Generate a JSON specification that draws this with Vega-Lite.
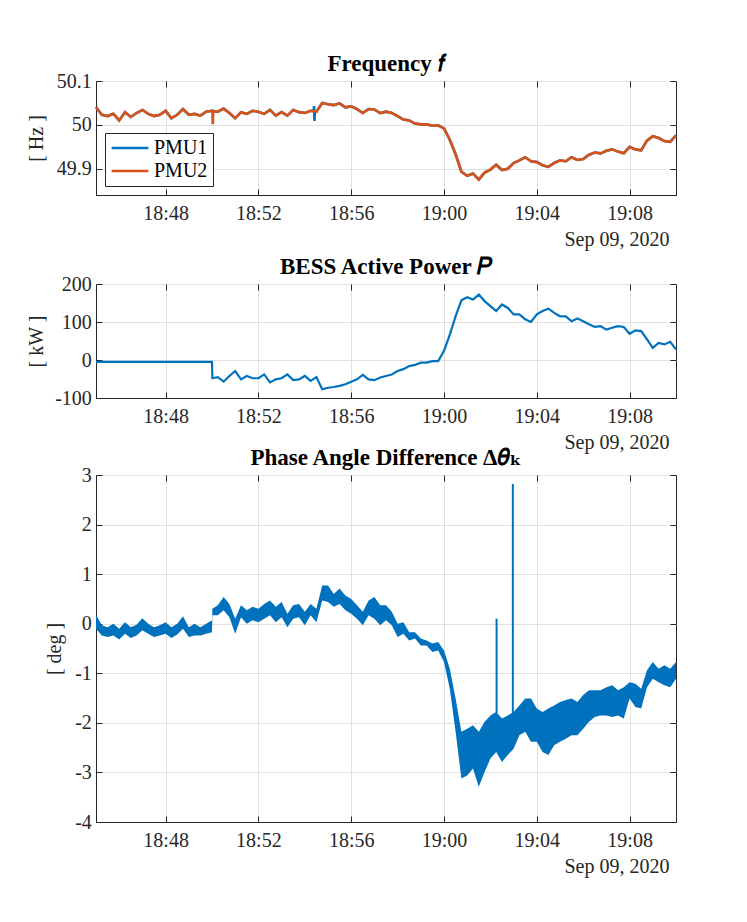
{
  "$schema": "https://vega.github.io/schema/vega-lite/v6.json",
  "padding": {"left": 25, "top": 52, "right": 60, "bottom": 5},
  "spacing": -7,
  "resolve": {"legend": {"color": "independent"}},
  "config": {
    "font": "Liberation Serif",
    "view": {"stroke": "#262626", "strokeWidth": 1},
    "style": {"guide-label": {"font": "Liberation Serif"}, "guide-title": {"font": "Liberation Serif"}},
    "axis": {
      "labelFont": "Liberation Serif",
      "labelFontSize": 20,
      "labelColor": "#262626",
      "tickColor": "#262626",
      "domainColor": "#262626",
      "gridColor": "#e0e0e0",
      "tickSize": -6,
      "titleFont": "Liberation Serif",
      "titleFontWeight": "normal",
      "titleFontSize": 20,
      "titleColor": "#262626"
    },
    "axisX": {"labelPadding": 14},
    "axisY": {"labelPadding": 10.7, "titleBaseline": "bottom"},
    "title": {"font": "Liberation Serif, DejaVu Serif", "fontSize": 23, "fontWeight": "bold", "color": "#000000", "offset": -5},
    "locale": {"number": {"decimal": ".", "thousands": ",", "grouping": [3], "currency": ["$", ""], "minus": "-"}}
  },
  "datasets": {
    "freq": [
      {"t": "2020-09-09T18:45:00", "PMU1": 50.040, "PMU2": 50.040},
      {"t": "2020-09-09T18:45:15", "PMU1": 50.023, "PMU2": 50.023},
      {"t": "2020-09-09T18:45:30", "PMU1": 50.020, "PMU2": 50.020},
      {"t": "2020-09-09T18:45:45", "PMU1": 50.025, "PMU2": 50.025},
      {"t": "2020-09-09T18:46:00", "PMU1": 50.010, "PMU2": 50.010},
      {"t": "2020-09-09T18:46:15", "PMU1": 50.029, "PMU2": 50.029},
      {"t": "2020-09-09T18:46:30", "PMU1": 50.018, "PMU2": 50.018},
      {"t": "2020-09-09T18:46:45", "PMU1": 50.027, "PMU2": 50.027},
      {"t": "2020-09-09T18:47:00", "PMU1": 50.034, "PMU2": 50.034},
      {"t": "2020-09-09T18:47:15", "PMU1": 50.025, "PMU2": 50.025},
      {"t": "2020-09-09T18:47:30", "PMU1": 50.020, "PMU2": 50.020},
      {"t": "2020-09-09T18:47:45", "PMU1": 50.023, "PMU2": 50.023},
      {"t": "2020-09-09T18:48:00", "PMU1": 50.032, "PMU2": 50.032},
      {"t": "2020-09-09T18:48:15", "PMU1": 50.015, "PMU2": 50.015},
      {"t": "2020-09-09T18:48:30", "PMU1": 50.023, "PMU2": 50.023},
      {"t": "2020-09-09T18:48:45", "PMU1": 50.036, "PMU2": 50.036},
      {"t": "2020-09-09T18:49:00", "PMU1": 50.023, "PMU2": 50.023},
      {"t": "2020-09-09T18:49:15", "PMU1": 50.025, "PMU2": 50.025},
      {"t": "2020-09-09T18:49:30", "PMU1": 50.021, "PMU2": 50.021},
      {"t": "2020-09-09T18:49:45", "PMU1": 50.030, "PMU2": 50.030},
      {"t": "2020-09-09T18:50:00", "PMU1": 50.032, "PMU2": 50.032},
      {"t": "2020-09-09T18:50:01", "PMU1": 50.032, "PMU2": 50.032},
      {"t": "2020-09-09T18:50:02", "PMU1": 50.032, "PMU2": 50.0015},
      {"t": "2020-09-09T18:50:03", "PMU1": 50.031, "PMU2": 50.031},
      {"t": "2020-09-09T18:50:15", "PMU1": 50.030, "PMU2": 50.030},
      {"t": "2020-09-09T18:50:30", "PMU1": 50.037, "PMU2": 50.037},
      {"t": "2020-09-09T18:50:45", "PMU1": 50.027, "PMU2": 50.027},
      {"t": "2020-09-09T18:51:00", "PMU1": 50.015, "PMU2": 50.015},
      {"t": "2020-09-09T18:51:15", "PMU1": 50.029, "PMU2": 50.029},
      {"t": "2020-09-09T18:51:30", "PMU1": 50.025, "PMU2": 50.025},
      {"t": "2020-09-09T18:51:45", "PMU1": 50.032, "PMU2": 50.032},
      {"t": "2020-09-09T18:52:00", "PMU1": 50.030, "PMU2": 50.030},
      {"t": "2020-09-09T18:52:15", "PMU1": 50.025, "PMU2": 50.025},
      {"t": "2020-09-09T18:52:30", "PMU1": 50.034, "PMU2": 50.034},
      {"t": "2020-09-09T18:52:45", "PMU1": 50.021, "PMU2": 50.021},
      {"t": "2020-09-09T18:53:00", "PMU1": 50.029, "PMU2": 50.029},
      {"t": "2020-09-09T18:53:15", "PMU1": 50.021, "PMU2": 50.021},
      {"t": "2020-09-09T18:53:30", "PMU1": 50.034, "PMU2": 50.034},
      {"t": "2020-09-09T18:53:45", "PMU1": 50.029, "PMU2": 50.029},
      {"t": "2020-09-09T18:54:00", "PMU1": 50.027, "PMU2": 50.027},
      {"t": "2020-09-09T18:54:15", "PMU1": 50.032, "PMU2": 50.032},
      {"t": "2020-09-09T18:54:23", "PMU1": 50.031, "PMU2": 50.031},
      {"t": "2020-09-09T18:54:24", "PMU1": 50.043, "PMU2": 50.031},
      {"t": "2020-09-09T18:54:25", "PMU1": 50.009, "PMU2": 50.031},
      {"t": "2020-09-09T18:54:26", "PMU1": 50.031, "PMU2": 50.031},
      {"t": "2020-09-09T18:54:30", "PMU1": 50.030, "PMU2": 50.030},
      {"t": "2020-09-09T18:54:45", "PMU1": 50.050, "PMU2": 50.050},
      {"t": "2020-09-09T18:55:00", "PMU1": 50.047, "PMU2": 50.047},
      {"t": "2020-09-09T18:55:15", "PMU1": 50.045, "PMU2": 50.045},
      {"t": "2020-09-09T18:55:30", "PMU1": 50.049, "PMU2": 50.049},
      {"t": "2020-09-09T18:55:45", "PMU1": 50.040, "PMU2": 50.040},
      {"t": "2020-09-09T18:56:00", "PMU1": 50.042, "PMU2": 50.042},
      {"t": "2020-09-09T18:56:15", "PMU1": 50.036, "PMU2": 50.036},
      {"t": "2020-09-09T18:56:30", "PMU1": 50.027, "PMU2": 50.027},
      {"t": "2020-09-09T18:56:45", "PMU1": 50.036, "PMU2": 50.036},
      {"t": "2020-09-09T18:57:00", "PMU1": 50.035, "PMU2": 50.035},
      {"t": "2020-09-09T18:57:15", "PMU1": 50.027, "PMU2": 50.027},
      {"t": "2020-09-09T18:57:30", "PMU1": 50.030, "PMU2": 50.030},
      {"t": "2020-09-09T18:57:45", "PMU1": 50.027, "PMU2": 50.027},
      {"t": "2020-09-09T18:58:00", "PMU1": 50.020, "PMU2": 50.020},
      {"t": "2020-09-09T18:58:15", "PMU1": 50.012, "PMU2": 50.012},
      {"t": "2020-09-09T18:58:30", "PMU1": 50.010, "PMU2": 50.010},
      {"t": "2020-09-09T18:58:45", "PMU1": 50.003, "PMU2": 50.003},
      {"t": "2020-09-09T18:59:00", "PMU1": 50.001, "PMU2": 50.001},
      {"t": "2020-09-09T18:59:15", "PMU1": 50.001, "PMU2": 50.001},
      {"t": "2020-09-09T18:59:30", "PMU1": 49.998, "PMU2": 49.998},
      {"t": "2020-09-09T18:59:45", "PMU1": 49.999, "PMU2": 49.999},
      {"t": "2020-09-09T19:00:00", "PMU1": 49.992, "PMU2": 49.992},
      {"t": "2020-09-09T19:00:15", "PMU1": 49.966, "PMU2": 49.966},
      {"t": "2020-09-09T19:00:30", "PMU1": 49.933, "PMU2": 49.933},
      {"t": "2020-09-09T19:00:45", "PMU1": 49.893, "PMU2": 49.893},
      {"t": "2020-09-09T19:01:00", "PMU1": 49.884, "PMU2": 49.884},
      {"t": "2020-09-09T19:01:15", "PMU1": 49.889, "PMU2": 49.889},
      {"t": "2020-09-09T19:01:30", "PMU1": 49.875, "PMU2": 49.875},
      {"t": "2020-09-09T19:01:45", "PMU1": 49.891, "PMU2": 49.891},
      {"t": "2020-09-09T19:02:00", "PMU1": 49.898, "PMU2": 49.898},
      {"t": "2020-09-09T19:02:15", "PMU1": 49.909, "PMU2": 49.909},
      {"t": "2020-09-09T19:02:30", "PMU1": 49.897, "PMU2": 49.897},
      {"t": "2020-09-09T19:02:45", "PMU1": 49.900, "PMU2": 49.900},
      {"t": "2020-09-09T19:03:00", "PMU1": 49.913, "PMU2": 49.913},
      {"t": "2020-09-09T19:03:15", "PMU1": 49.919, "PMU2": 49.919},
      {"t": "2020-09-09T19:03:30", "PMU1": 49.926, "PMU2": 49.926},
      {"t": "2020-09-09T19:03:45", "PMU1": 49.917, "PMU2": 49.917},
      {"t": "2020-09-09T19:04:00", "PMU1": 49.915, "PMU2": 49.915},
      {"t": "2020-09-09T19:04:15", "PMU1": 49.908, "PMU2": 49.908},
      {"t": "2020-09-09T19:04:30", "PMU1": 49.904, "PMU2": 49.904},
      {"t": "2020-09-09T19:04:45", "PMU1": 49.913, "PMU2": 49.913},
      {"t": "2020-09-09T19:05:00", "PMU1": 49.919, "PMU2": 49.919},
      {"t": "2020-09-09T19:05:15", "PMU1": 49.917, "PMU2": 49.917},
      {"t": "2020-09-09T19:05:30", "PMU1": 49.926, "PMU2": 49.926},
      {"t": "2020-09-09T19:05:45", "PMU1": 49.920, "PMU2": 49.920},
      {"t": "2020-09-09T19:06:00", "PMU1": 49.922, "PMU2": 49.922},
      {"t": "2020-09-09T19:06:15", "PMU1": 49.932, "PMU2": 49.932},
      {"t": "2020-09-09T19:06:30", "PMU1": 49.937, "PMU2": 49.937},
      {"t": "2020-09-09T19:06:45", "PMU1": 49.935, "PMU2": 49.935},
      {"t": "2020-09-09T19:07:00", "PMU1": 49.941, "PMU2": 49.941},
      {"t": "2020-09-09T19:07:15", "PMU1": 49.944, "PMU2": 49.944},
      {"t": "2020-09-09T19:07:30", "PMU1": 49.939, "PMU2": 49.939},
      {"t": "2020-09-09T19:07:45", "PMU1": 49.935, "PMU2": 49.935},
      {"t": "2020-09-09T19:08:00", "PMU1": 49.950, "PMU2": 49.950},
      {"t": "2020-09-09T19:08:15", "PMU1": 49.944, "PMU2": 49.944},
      {"t": "2020-09-09T19:08:30", "PMU1": 49.942, "PMU2": 49.942},
      {"t": "2020-09-09T19:08:45", "PMU1": 49.964, "PMU2": 49.964},
      {"t": "2020-09-09T19:09:00", "PMU1": 49.974, "PMU2": 49.974},
      {"t": "2020-09-09T19:09:15", "PMU1": 49.970, "PMU2": 49.970},
      {"t": "2020-09-09T19:09:30", "PMU1": 49.963, "PMU2": 49.963},
      {"t": "2020-09-09T19:09:45", "PMU1": 49.961, "PMU2": 49.961},
      {"t": "2020-09-09T19:10:00", "PMU1": 49.976, "PMU2": 49.976}
    ],
    "power": [
      {"t": "2020-09-09T18:45:00", "P": -5},
      {"t": "2020-09-09T18:50:00", "P": -5},
      {"t": "2020-09-09T18:50:01", "P": -48},
      {"t": "2020-09-09T18:50:15", "P": -45},
      {"t": "2020-09-09T18:50:30", "P": -57},
      {"t": "2020-09-09T18:50:45", "P": -42},
      {"t": "2020-09-09T18:51:00", "P": -29},
      {"t": "2020-09-09T18:51:15", "P": -51},
      {"t": "2020-09-09T18:51:30", "P": -42},
      {"t": "2020-09-09T18:51:45", "P": -48},
      {"t": "2020-09-09T18:52:00", "P": -48},
      {"t": "2020-09-09T18:52:15", "P": -38},
      {"t": "2020-09-09T18:52:30", "P": -59},
      {"t": "2020-09-09T18:52:45", "P": -51},
      {"t": "2020-09-09T18:53:00", "P": -48},
      {"t": "2020-09-09T18:53:15", "P": -38},
      {"t": "2020-09-09T18:53:30", "P": -53},
      {"t": "2020-09-09T18:53:45", "P": -51},
      {"t": "2020-09-09T18:54:00", "P": -42},
      {"t": "2020-09-09T18:54:15", "P": -55},
      {"t": "2020-09-09T18:54:30", "P": -45},
      {"t": "2020-09-09T18:54:45", "P": -77},
      {"t": "2020-09-09T18:55:00", "P": -73},
      {"t": "2020-09-09T18:55:15", "P": -71},
      {"t": "2020-09-09T18:55:30", "P": -68},
      {"t": "2020-09-09T18:55:45", "P": -64},
      {"t": "2020-09-09T18:56:00", "P": -57},
      {"t": "2020-09-09T18:56:15", "P": -51},
      {"t": "2020-09-09T18:56:30", "P": -39},
      {"t": "2020-09-09T18:56:45", "P": -51},
      {"t": "2020-09-09T18:57:00", "P": -53},
      {"t": "2020-09-09T18:57:15", "P": -46},
      {"t": "2020-09-09T18:57:30", "P": -42},
      {"t": "2020-09-09T18:57:45", "P": -38},
      {"t": "2020-09-09T18:58:00", "P": -29},
      {"t": "2020-09-09T18:58:15", "P": -24},
      {"t": "2020-09-09T18:58:30", "P": -16},
      {"t": "2020-09-09T18:58:45", "P": -13},
      {"t": "2020-09-09T18:59:00", "P": -7},
      {"t": "2020-09-09T18:59:15", "P": -7},
      {"t": "2020-09-09T18:59:30", "P": -3},
      {"t": "2020-09-09T18:59:45", "P": -3},
      {"t": "2020-09-09T19:00:00", "P": 24},
      {"t": "2020-09-09T19:00:15", "P": 67},
      {"t": "2020-09-09T19:00:30", "P": 115},
      {"t": "2020-09-09T19:00:45", "P": 157},
      {"t": "2020-09-09T19:01:00", "P": 165},
      {"t": "2020-09-09T19:01:15", "P": 159},
      {"t": "2020-09-09T19:01:30", "P": 172},
      {"t": "2020-09-09T19:01:45", "P": 155},
      {"t": "2020-09-09T19:02:00", "P": 142},
      {"t": "2020-09-09T19:02:15", "P": 129},
      {"t": "2020-09-09T19:02:30", "P": 146},
      {"t": "2020-09-09T19:02:45", "P": 137},
      {"t": "2020-09-09T19:03:00", "P": 120},
      {"t": "2020-09-09T19:03:15", "P": 120},
      {"t": "2020-09-09T19:03:30", "P": 107},
      {"t": "2020-09-09T19:03:45", "P": 100},
      {"t": "2020-09-09T19:04:00", "P": 120},
      {"t": "2020-09-09T19:04:15", "P": 129},
      {"t": "2020-09-09T19:04:30", "P": 135},
      {"t": "2020-09-09T19:04:45", "P": 124},
      {"t": "2020-09-09T19:05:00", "P": 115},
      {"t": "2020-09-09T19:05:15", "P": 115},
      {"t": "2020-09-09T19:05:30", "P": 102},
      {"t": "2020-09-09T19:05:45", "P": 109},
      {"t": "2020-09-09T19:06:00", "P": 102},
      {"t": "2020-09-09T19:06:15", "P": 94},
      {"t": "2020-09-09T19:06:30", "P": 87},
      {"t": "2020-09-09T19:06:45", "P": 89},
      {"t": "2020-09-09T19:07:00", "P": 80},
      {"t": "2020-09-09T19:07:15", "P": 85},
      {"t": "2020-09-09T19:07:30", "P": 89},
      {"t": "2020-09-09T19:07:45", "P": 87},
      {"t": "2020-09-09T19:08:00", "P": 69},
      {"t": "2020-09-09T19:08:15", "P": 78},
      {"t": "2020-09-09T19:08:30", "P": 76},
      {"t": "2020-09-09T19:08:45", "P": 54},
      {"t": "2020-09-09T19:09:00", "P": 32},
      {"t": "2020-09-09T19:09:15", "P": 45},
      {"t": "2020-09-09T19:09:30", "P": 41},
      {"t": "2020-09-09T19:09:45", "P": 48},
      {"t": "2020-09-09T19:10:00", "P": 28}
    ],
    "phase": [
      {"t": "2020-09-09T18:45:00", "hi": 0.18, "lo": -0.10},
      {"t": "2020-09-09T18:45:15", "hi": -0.03, "lo": -0.24},
      {"t": "2020-09-09T18:45:30", "hi": -0.07, "lo": -0.27},
      {"t": "2020-09-09T18:45:45", "hi": 0.00, "lo": -0.24},
      {"t": "2020-09-09T18:46:00", "hi": -0.10, "lo": -0.32},
      {"t": "2020-09-09T18:46:15", "hi": 0.03, "lo": -0.20},
      {"t": "2020-09-09T18:46:30", "hi": -0.07, "lo": -0.29},
      {"t": "2020-09-09T18:46:45", "hi": -0.02, "lo": -0.24},
      {"t": "2020-09-09T18:47:00", "hi": 0.11, "lo": -0.13},
      {"t": "2020-09-09T18:47:15", "hi": 0.00, "lo": -0.20},
      {"t": "2020-09-09T18:47:30", "hi": -0.07, "lo": -0.27},
      {"t": "2020-09-09T18:47:45", "hi": -0.03, "lo": -0.24},
      {"t": "2020-09-09T18:48:00", "hi": 0.03, "lo": -0.20},
      {"t": "2020-09-09T18:48:15", "hi": -0.07, "lo": -0.29},
      {"t": "2020-09-09T18:48:30", "hi": 0.00, "lo": -0.22},
      {"t": "2020-09-09T18:48:45", "hi": 0.15, "lo": -0.10},
      {"t": "2020-09-09T18:49:00", "hi": -0.07, "lo": -0.27},
      {"t": "2020-09-09T18:49:15", "hi": 0.00, "lo": -0.24},
      {"t": "2020-09-09T18:49:30", "hi": -0.07, "lo": -0.24},
      {"t": "2020-09-09T18:49:45", "hi": 0.00, "lo": -0.20},
      {"t": "2020-09-09T18:50:00", "hi": 0.07, "lo": -0.17},
      {"t": "2020-09-09T18:50:01", "hi": 0.30, "lo": 0.17},
      {"t": "2020-09-09T18:50:15", "hi": 0.37, "lo": 0.17},
      {"t": "2020-09-09T18:50:30", "hi": 0.54, "lo": 0.27},
      {"t": "2020-09-09T18:50:45", "hi": 0.40, "lo": 0.13},
      {"t": "2020-09-09T18:51:00", "hi": 0.10, "lo": -0.20},
      {"t": "2020-09-09T18:51:15", "hi": 0.37, "lo": 0.13},
      {"t": "2020-09-09T18:51:30", "hi": 0.27, "lo": 0.00},
      {"t": "2020-09-09T18:51:45", "hi": 0.34, "lo": 0.07},
      {"t": "2020-09-09T18:52:00", "hi": 0.30, "lo": 0.03},
      {"t": "2020-09-09T18:52:15", "hi": 0.40, "lo": 0.10},
      {"t": "2020-09-09T18:52:30", "hi": 0.47, "lo": 0.17},
      {"t": "2020-09-09T18:52:45", "hi": 0.34, "lo": 0.03},
      {"t": "2020-09-09T18:53:00", "hi": 0.44, "lo": 0.13},
      {"t": "2020-09-09T18:53:15", "hi": 0.20, "lo": -0.07},
      {"t": "2020-09-09T18:53:30", "hi": 0.37, "lo": 0.10},
      {"t": "2020-09-09T18:53:45", "hi": 0.40, "lo": 0.13},
      {"t": "2020-09-09T18:54:00", "hi": 0.24, "lo": -0.03},
      {"t": "2020-09-09T18:54:15", "hi": 0.40, "lo": 0.17},
      {"t": "2020-09-09T18:54:30", "hi": 0.30, "lo": 0.03},
      {"t": "2020-09-09T18:54:45", "hi": 0.77, "lo": 0.47},
      {"t": "2020-09-09T18:55:00", "hi": 0.77, "lo": 0.44},
      {"t": "2020-09-09T18:55:15", "hi": 0.60, "lo": 0.34},
      {"t": "2020-09-09T18:55:30", "hi": 0.71, "lo": 0.40},
      {"t": "2020-09-09T18:55:45", "hi": 0.57, "lo": 0.27},
      {"t": "2020-09-09T18:56:00", "hi": 0.50, "lo": 0.20},
      {"t": "2020-09-09T18:56:15", "hi": 0.37, "lo": 0.10},
      {"t": "2020-09-09T18:56:30", "hi": 0.24, "lo": -0.03},
      {"t": "2020-09-09T18:56:45", "hi": 0.47, "lo": 0.17},
      {"t": "2020-09-09T18:57:00", "hi": 0.54, "lo": 0.10},
      {"t": "2020-09-09T18:57:15", "hi": 0.37, "lo": -0.03},
      {"t": "2020-09-09T18:57:30", "hi": 0.37, "lo": 0.07},
      {"t": "2020-09-09T18:57:45", "hi": 0.24, "lo": -0.03},
      {"t": "2020-09-09T18:58:00", "hi": 0.00, "lo": -0.27},
      {"t": "2020-09-09T18:58:15", "hi": 0.03, "lo": -0.20},
      {"t": "2020-09-09T18:58:30", "hi": -0.17, "lo": -0.34},
      {"t": "2020-09-09T18:58:45", "hi": -0.17, "lo": -0.30},
      {"t": "2020-09-09T18:59:00", "hi": -0.30, "lo": -0.44},
      {"t": "2020-09-09T18:59:15", "hi": -0.34, "lo": -0.44},
      {"t": "2020-09-09T18:59:30", "hi": -0.40, "lo": -0.57},
      {"t": "2020-09-09T18:59:45", "hi": -0.37, "lo": -0.54},
      {"t": "2020-09-09T19:00:00", "hi": -0.54, "lo": -0.77},
      {"t": "2020-09-09T19:00:15", "hi": -0.91, "lo": -1.31},
      {"t": "2020-09-09T19:00:30", "hi": -1.51, "lo": -2.18},
      {"t": "2020-09-09T19:00:45", "hi": -2.18, "lo": -3.12},
      {"t": "2020-09-09T19:01:00", "hi": -2.12, "lo": -3.06},
      {"t": "2020-09-09T19:01:15", "hi": -2.05, "lo": -2.92},
      {"t": "2020-09-09T19:01:30", "hi": -2.18, "lo": -3.29},
      {"t": "2020-09-09T19:01:45", "hi": -1.98, "lo": -2.99},
      {"t": "2020-09-09T19:02:00", "hi": -1.85, "lo": -2.72},
      {"t": "2020-09-09T19:02:15", "hi": -1.78, "lo": -2.59},
      {"t": "2020-09-09T19:02:30", "hi": -1.91, "lo": -2.79},
      {"t": "2020-09-09T19:02:45", "hi": -1.85, "lo": -2.65},
      {"t": "2020-09-09T19:03:00", "hi": -1.78, "lo": -2.52},
      {"t": "2020-09-09T19:03:15", "hi": -1.65, "lo": -2.25},
      {"t": "2020-09-09T19:03:30", "hi": -1.51, "lo": -2.18},
      {"t": "2020-09-09T19:03:45", "hi": -1.51, "lo": -2.38},
      {"t": "2020-09-09T19:04:00", "hi": -1.71, "lo": -2.38},
      {"t": "2020-09-09T19:04:15", "hi": -1.78, "lo": -2.59},
      {"t": "2020-09-09T19:04:30", "hi": -1.71, "lo": -2.65},
      {"t": "2020-09-09T19:04:45", "hi": -1.65, "lo": -2.45},
      {"t": "2020-09-09T19:05:00", "hi": -1.58, "lo": -2.38},
      {"t": "2020-09-09T19:05:15", "hi": -1.54, "lo": -2.32},
      {"t": "2020-09-09T19:05:30", "hi": -1.51, "lo": -2.25},
      {"t": "2020-09-09T19:05:45", "hi": -1.58, "lo": -2.25},
      {"t": "2020-09-09T19:06:00", "hi": -1.44, "lo": -2.12},
      {"t": "2020-09-09T19:06:15", "hi": -1.34, "lo": -1.98},
      {"t": "2020-09-09T19:06:30", "hi": -1.34, "lo": -1.88},
      {"t": "2020-09-09T19:06:45", "hi": -1.34, "lo": -1.85},
      {"t": "2020-09-09T19:07:00", "hi": -1.28, "lo": -1.85},
      {"t": "2020-09-09T19:07:15", "hi": -1.24, "lo": -1.88},
      {"t": "2020-09-09T19:07:30", "hi": -1.34, "lo": -1.85},
      {"t": "2020-09-09T19:07:45", "hi": -1.28, "lo": -1.91},
      {"t": "2020-09-09T19:08:00", "hi": -1.18, "lo": -1.51},
      {"t": "2020-09-09T19:08:15", "hi": -1.21, "lo": -1.68},
      {"t": "2020-09-09T19:08:30", "hi": -1.31, "lo": -1.71},
      {"t": "2020-09-09T19:08:45", "hi": -0.94, "lo": -1.28},
      {"t": "2020-09-09T19:09:00", "hi": -0.77, "lo": -1.11},
      {"t": "2020-09-09T19:09:15", "hi": -0.91, "lo": -1.18},
      {"t": "2020-09-09T19:09:30", "hi": -0.84, "lo": -1.24},
      {"t": "2020-09-09T19:09:45", "hi": -0.91, "lo": -1.28},
      {"t": "2020-09-09T19:10:00", "hi": -0.77, "lo": -1.11}
    ],
    "spikes": [
      {"t": "2020-09-09T19:02:16", "hi": 0.10, "lo": -1.80},
      {"t": "2020-09-09T19:02:58", "hi": 2.82, "lo": -1.90}
    ]
  },
  "vconcat": [
    {
      "title": "Frequency 𝑓",
      "width": 580,
      "height": 114,
      "data": {"name": "freq"},
      "transform": [{"fold": ["PMU1", "PMU2"], "as": ["series", "f"]}],
      "layer": [
        {
          "mark": {"type": "line", "strokeWidth": 2.6},
          "encoding": {
            "x": {
              "field": "t", "type": "temporal",
              "scale": {"domain": [{"year": 2020, "month": 9, "date": 9, "hours": 18, "minutes": 45}, {"year": 2020, "month": 9, "date": 9, "hours": 19, "minutes": 10}]},
              "axis": {
                "values": [{"year": 2020, "month": 9, "date": 9, "hours": 18, "minutes": 48}, {"year": 2020, "month": 9, "date": 9, "hours": 18, "minutes": 52}, {"year": 2020, "month": 9, "date": 9, "hours": 18, "minutes": 56}, {"year": 2020, "month": 9, "date": 9, "hours": 19, "minutes": 0}, {"year": 2020, "month": 9, "date": 9, "hours": 19, "minutes": 4}, {"year": 2020, "month": 9, "date": 9, "hours": 19, "minutes": 8}],
                "format": "%H:%M", "labelFont": "Liberation Serif", "title": ["Sep 09, 2020", " "], "titleLineHeight": 12, "titleAnchor": "end", "titleAlign": "right", "titleX": 573, "titlePadding": 6
              }
            },
            "y": {
              "field": "f", "type": "quantitative",
              "scale": {"domain": [49.85, 50.1]},
              "axis": {"values": [49.9, 50, 50.1], "format": "~g", "labelFont": "Liberation Serif", "title": "[ Hz ]", "titleX": -50, "titlePadding": 10}
            },
            "color": {
              "field": "series", "type": "nominal",
              "scale": {"domain": ["PMU1", "PMU2"], "range": ["#0072BD", "#D95319"]},
              "legend": {"orient": "bottom-left", "offset": 9, "title": null, "symbolType": "stroke", "symbolSize": 1350, "symbolStrokeWidth": 2.5, "clipHeight": 20, "labelFontSize": 20, "labelFont": "Liberation Serif", "labelColor": "#000000", "strokeColor": "#262626", "fillColor": "#ffffff", "padding": 5, "rowPadding": 3, "labelOffset": 4}
            }
          }
        },
        {
          "mark": {"type": "line", "opacity": 0},
          "encoding": {
            "x": {"field": "t", "type": "temporal", "axis": {"orient": "top", "labels": false, "grid": false, "domain": false, "title": null, "minExtent": 0, "maxExtent": 0, "labelPadding": 0, "values": [{"year": 2020, "month": 9, "date": 9, "hours": 18, "minutes": 48}, {"year": 2020, "month": 9, "date": 9, "hours": 18, "minutes": 52}, {"year": 2020, "month": 9, "date": 9, "hours": 18, "minutes": 56}, {"year": 2020, "month": 9, "date": 9, "hours": 19, "minutes": 0}, {"year": 2020, "month": 9, "date": 9, "hours": 19, "minutes": 4}, {"year": 2020, "month": 9, "date": 9, "hours": 19, "minutes": 8}]}},
            "y": {"field": "f", "type": "quantitative", "axis": {"orient": "right", "labels": false, "grid": false, "domain": false, "title": null, "minExtent": 0, "maxExtent": 0, "labelPadding": 0, "values": [49.9, 50, 50.1]}},
            "detail": {"field": "series"}
          }
        }
      ],
      "resolve": {"axis": {"x": "independent", "y": "independent"}}
    },
    {
      "title": "BESS Active Power 𝑃",
      "width": 580,
      "height": 114,
      "data": {"name": "power"},
      "layer": [
        {
          "mark": {"type": "line", "strokeWidth": 2.2, "color": "#0072BD"},
          "encoding": {
            "x": {
              "field": "t", "type": "temporal",
              "scale": {"domain": [{"year": 2020, "month": 9, "date": 9, "hours": 18, "minutes": 45}, {"year": 2020, "month": 9, "date": 9, "hours": 19, "minutes": 10}]},
              "axis": {
                "values": [{"year": 2020, "month": 9, "date": 9, "hours": 18, "minutes": 48}, {"year": 2020, "month": 9, "date": 9, "hours": 18, "minutes": 52}, {"year": 2020, "month": 9, "date": 9, "hours": 18, "minutes": 56}, {"year": 2020, "month": 9, "date": 9, "hours": 19, "minutes": 0}, {"year": 2020, "month": 9, "date": 9, "hours": 19, "minutes": 4}, {"year": 2020, "month": 9, "date": 9, "hours": 19, "minutes": 8}],
                "format": "%H:%M", "labelFont": "Liberation Serif", "title": "Sep 09, 2020", "titleAnchor": "end", "titleAlign": "right", "titleX": 573, "titlePadding": 6
              }
            },
            "y": {
              "field": "P", "type": "quantitative",
              "scale": {"domain": [-100, 200]},
              "axis": {"values": [-100, 0, 100, 200], "format": "d", "labelFont": "Liberation Serif", "title": "[ kW ]", "titleX": -50, "titlePadding": 10}
            }
          }
        },
        {
          "mark": {"type": "line", "opacity": 0},
          "encoding": {
            "x": {"field": "t", "type": "temporal", "axis": {"orient": "top", "labels": false, "grid": false, "domain": false, "title": null, "minExtent": 0, "maxExtent": 0, "labelPadding": 0, "values": [{"year": 2020, "month": 9, "date": 9, "hours": 18, "minutes": 48}, {"year": 2020, "month": 9, "date": 9, "hours": 18, "minutes": 52}, {"year": 2020, "month": 9, "date": 9, "hours": 18, "minutes": 56}, {"year": 2020, "month": 9, "date": 9, "hours": 19, "minutes": 0}, {"year": 2020, "month": 9, "date": 9, "hours": 19, "minutes": 4}, {"year": 2020, "month": 9, "date": 9, "hours": 19, "minutes": 8}]}},
            "y": {"field": "P", "type": "quantitative", "axis": {"orient": "right", "labels": false, "grid": false, "domain": false, "title": null, "minExtent": 0, "maxExtent": 0, "labelPadding": 0, "values": [-100, 0, 100, 200]}}
          }
        }
      ],
      "resolve": {"axis": {"x": "independent", "y": "independent"}}
    },
    {
      "title": "Phase Angle Difference Δ𝜃ₖ",
      "width": 580,
      "height": 347,
      "layer": [
        {
          "data": {"name": "phase"},
          "mark": {"type": "area", "color": "#0072BD", "opacity": 1},
          "encoding": {
            "x": {
              "field": "t", "type": "temporal",
              "scale": {"domain": [{"year": 2020, "month": 9, "date": 9, "hours": 18, "minutes": 45}, {"year": 2020, "month": 9, "date": 9, "hours": 19, "minutes": 10}]},
              "axis": {
                "values": [{"year": 2020, "month": 9, "date": 9, "hours": 18, "minutes": 48}, {"year": 2020, "month": 9, "date": 9, "hours": 18, "minutes": 52}, {"year": 2020, "month": 9, "date": 9, "hours": 18, "minutes": 56}, {"year": 2020, "month": 9, "date": 9, "hours": 19, "minutes": 0}, {"year": 2020, "month": 9, "date": 9, "hours": 19, "minutes": 4}, {"year": 2020, "month": 9, "date": 9, "hours": 19, "minutes": 8}],
                "format": "%H:%M", "labelFont": "Liberation Serif", "title": "Sep 09, 2020", "titleAnchor": "end", "titleAlign": "right", "titleX": 573, "titlePadding": 6
              }
            },
            "y": {
              "field": "lo", "type": "quantitative",
              "scale": {"domain": [-4, 3]},
              "axis": {"values": [-4, -3, -2, -1, 0, 1, 2, 3], "format": "d", "labelFont": "Liberation Serif", "title": "[ deg ]", "titleX": -32, "titlePadding": 10}
            },
            "y2": {"field": "hi"}
          }
        },
        {
          "data": {"name": "spikes"},
          "mark": {"type": "rule", "color": "#0072BD", "strokeWidth": 2},
          "encoding": {
            "x": {"field": "t", "type": "temporal", "axis": null},
            "y": {"field": "lo", "type": "quantitative", "axis": null},
            "y2": {"field": "hi"}
          }
        },
        {
          "data": {"name": "phase"},
          "mark": {"type": "line", "opacity": 0},
          "encoding": {
            "x": {"field": "t", "type": "temporal", "axis": {"orient": "top", "labels": false, "grid": false, "domain": false, "title": null, "minExtent": 0, "maxExtent": 0, "labelPadding": 0, "values": [{"year": 2020, "month": 9, "date": 9, "hours": 18, "minutes": 48}, {"year": 2020, "month": 9, "date": 9, "hours": 18, "minutes": 52}, {"year": 2020, "month": 9, "date": 9, "hours": 18, "minutes": 56}, {"year": 2020, "month": 9, "date": 9, "hours": 19, "minutes": 0}, {"year": 2020, "month": 9, "date": 9, "hours": 19, "minutes": 4}, {"year": 2020, "month": 9, "date": 9, "hours": 19, "minutes": 8}]}},
            "y": {"field": "lo", "type": "quantitative", "axis": {"orient": "right", "labels": false, "grid": false, "domain": false, "title": null, "minExtent": 0, "maxExtent": 0, "labelPadding": 0, "values": [-4, -3, -2, -1, 0, 1, 2, 3]}}
          }
        }
      ],
      "resolve": {"axis": {"x": "independent", "y": "independent"}}
    }
  ]
}
